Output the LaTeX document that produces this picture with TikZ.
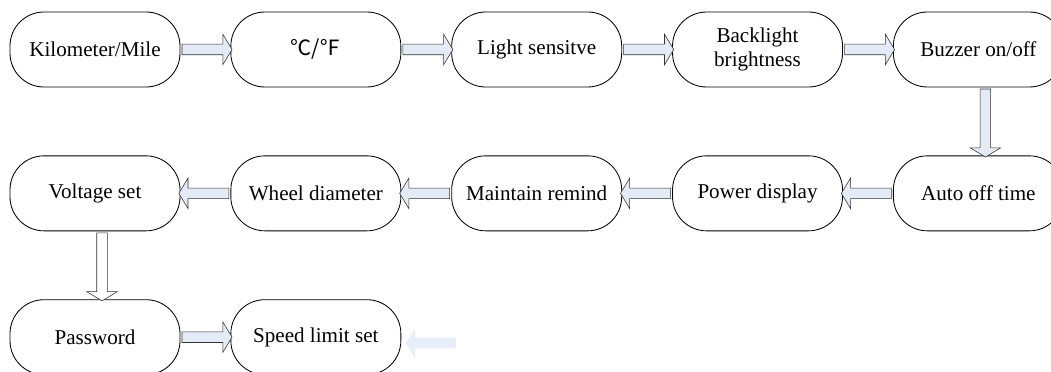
\documentclass[tikz,border=0pt]{standalone}
\usepackage{fontspec}
\setmainfont{Liberation Serif}
\newfontfamily\cjk{Noto Sans CJK SC}
\usetikzlibrary{positioning,shapes.arrows}
\definecolor{pilfarve}{RGB}{228,235,246}
\definecolor{svagfarve}{RGB}{232,238,249}
\tikzset{
	%Define style for menu boxes
	menupunkt/.style={
		rectangle,
		rounded corners=0.85cm,
		draw=black, line width=0.6pt,
		minimum width=4.25cm,
		minimum height=1.875cm,
		inner sep=0pt,
		align=center,
		font=\fontsize{15}{17}\selectfont},
	% Define block arrow style
	blokpil/.style={
		single arrow,
		draw=black!80, line width=0.4pt,
		fill=pilfarve,
		inner sep=0.125cm,
		single arrow head extend=0.25cm,
		single arrow tip angle=118,
		minimum height=1.25cm,
		sloped, allow upside down}
}
\begin{document}
\begin{tikzpicture}[node distance=1.7cm and 1.25cm]
	\useasboundingbox (0,0) rectangle (26.275,-9.3);
	
	% first row, left to right
	\node[menupunkt] (km) at (2.375,-1.2375) {Kilometer/Mile};
	\node[menupunkt, right=of km] (temp) {{\cjk ℃/℉}};
	\node[menupunkt, right=of temp] (lys) {Light sensitve};
	\node[menupunkt, right=of lys] (bag) {Backlight\\brightness};
	\node[menupunkt, right=of bag] (buzz) {Buzzer on/off};
	% second row, right to left
	\node[menupunkt, below=of buzz] (auto) {Auto off time};
	\node[menupunkt, left=of auto] (power) {Power display};
	\node[menupunkt, left=of power] (maint) {Maintain remind};
	\node[menupunkt, left=of maint] (wheel) {Wheel diameter};
	\node[menupunkt, left=of wheel] (volt) {Voltage set};
	% third row
	\node[menupunkt, below=of volt] (pass) {Password};
	\node[menupunkt, right=of pass] (speed) {Speed limit set};
	
	\path (km) -- node[blokpil] {} (temp);
	\path (temp) -- node[blokpil] {} (lys);
	\path (lys) -- node[blokpil] {} (bag);
	\path (bag) -- node[blokpil] {} (buzz);
	\path ([xshift=0.175cm]buzz.south) -- node[blokpil, minimum height=1.7cm] {} ([xshift=0.175cm]auto.north);
	\path (auto) -- node[blokpil] {} (power);
	\path (power) -- node[blokpil] {} (maint);
	\path (maint) -- node[blokpil] {} (wheel);
	\path (wheel) -- node[blokpil] {} (volt);
	\path ([xshift=0.175cm]volt.south) -- node[blokpil, minimum height=1.7cm, fill=white] {} ([xshift=0.175cm]pass.north);
	\path (pass) -- node[blokpil] {} (speed);
	
	% faint arrow beside the last box
	\node[blokpil, draw=none, fill=svagfarve, rotate=180] (svag) at (10.8125,-8.575) {};
	
\end{tikzpicture}
\end{document}
